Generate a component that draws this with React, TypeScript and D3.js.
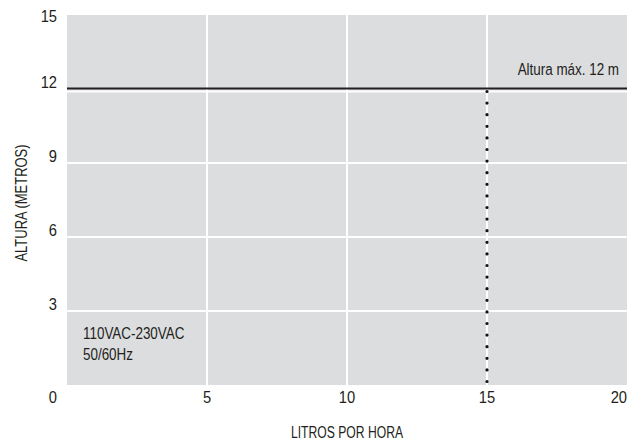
import React from "react";
import * as d3 from "d3";

const xTicks = [5, 10, 15, 20];
const yTicks = [0, 3, 6, 9, 12, 15];
const maxHeight = 12;
const flowAtMax = 15;
const xTitle = "LITROS POR HORA";
const yTitle = "ALTURA (METROS)";
const maxLabel = "Altura máx. 12 m";
const powerLines = ["110VAC-230VAC", "50/60Hz"];

const W = 638;
const H = 442;
const M = { left: 67, right: 11, top: 15, bottom: 57 };
const FONT = "'Liberation Sans', Arial, sans-serif";
const TXT = "#231f20";

function T({ x, y, size, sx, anchor = "start", rotate = 0, children }: any) {
  return (
    <text
      transform={`translate(${x},${y}) rotate(${rotate}) scale(${sx},1)`}
      textAnchor={anchor}
      fontSize={size}
      fill={TXT}
    >
      {children}
    </text>
  );
}

export default function App() {
  const x = d3.scaleLinear().domain([0, 20]).range([M.left, W - M.right]);
  const y = d3.scaleLinear().domain([0, 15]).range([H - M.bottom, M.top]);
  const x0 = x(0), x1 = x(20), y0 = y(0), y1 = y(15);

  return (
    <svg width={W} height={H} style={{ position: "absolute", left: 0, top: 0 }} fontFamily={FONT}>
      <rect x={0} y={0} width={W} height={H} fill="#ffffff" />
      <rect x={x0} y={y1} width={x1 - x0} height={y0 - y1} fill="#dcdddf" />
      {xTicks.filter((v) => v > 0 && v < 20).map((v) => (
        <line key={"gx" + v} x1={x(v)} x2={x(v)} y1={y1} y2={y0} stroke="#ffffff" strokeWidth={2} />
      ))}
      {yTicks.filter((v) => v > 0 && v < 15).map((v) => {
        const gy = v === maxHeight ? y(v) + 2.5 : y(v);
        return <line key={"gy" + v} x1={x0} x2={x1} y1={gy} y2={gy} stroke="#ffffff" strokeWidth={2} />;
      })}
      <line x1={x0} x2={x1} y1={y(maxHeight) - 0.5} y2={y(maxHeight) - 0.5} stroke="#231f20" strokeWidth={2} />
      <line x1={x(flowAtMax)} x2={x(flowAtMax)} y1={y(maxHeight) + 2.5} y2={y(0) - 3} stroke="#111" strokeWidth={3.2} strokeLinecap="round" strokeDasharray="0 11.6" />
      {yTicks.map((v) => {
        const by = v === 15 ? y(v) + 7 : v === 0 ? y(v) + 18 : y(v) - 1;
        return <T key={"ty" + v} x={57} y={by} size={16} sx={0.92} anchor="end">{v}</T>;
      })}
      {xTicks.map((v) => (
        <T key={"tx" + v} x={v === 20 ? x(v) : x(v)} y={y0 + 18} size={16} sx={0.92} anchor={v === 20 ? "end" : "middle"}>{v}</T>
      ))}
      <T x={(x0 + x1) / 2} y={438} size={16} sx={0.76} anchor="middle">{xTitle}</T>
      <T x={27} y={(y0 + y1) / 2 + 3} size={16} sx={0.81} anchor="middle" rotate={-90}>{yTitle}</T>
      <T x={x1 - 8} y={y(maxHeight) - 14} size={17} sx={0.79} anchor="end">{maxLabel}</T>
      {powerLines.map((t, i) => (
        <T key={t} x={x0 + 16} y={339 + i * 21} size={17} sx={0.79}>{t}</T>
      ))}
    </svg>
  );
}
